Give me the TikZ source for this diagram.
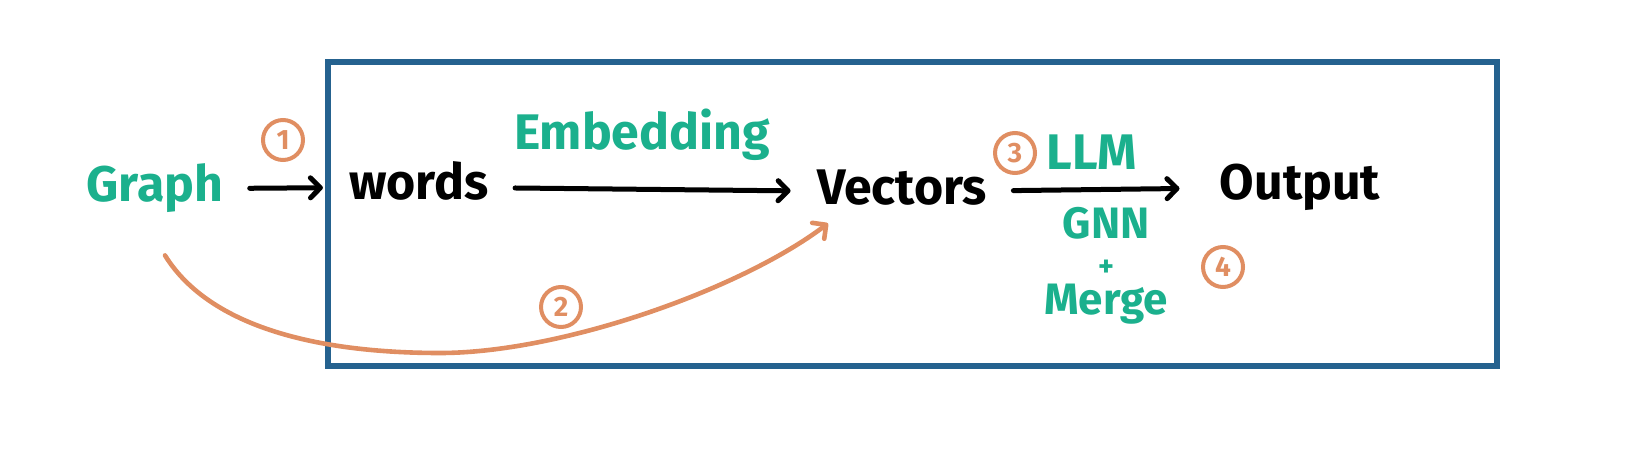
\documentclass[tikz,border=0pt]{standalone}
\usepackage{fontspec}
\setmainfont{Fira Sans}
\usepackage{tikz}
\usetikzlibrary{arrows.meta}

\definecolor{stepgreen}{RGB}{27,176,141}
\definecolor{steporange}{RGB}{224,142,98}
\definecolor{frameblue}{RGB}{37,98,143}

\tikzset{
  word/.style={font=\fontsize{25}{30}\selectfont\bfseries, text height=18pt, text depth=5pt, inner xsep=13pt, inner ysep=2pt},
  flow/.style={-{Straight Barb[length=5pt,width=10pt,round]}, line width=2.5pt, line cap=round},
  num/.style={circle, draw=steporange, text=steporange, line width=2pt, minimum size=20pt, inner sep=0pt, font=\fontsize{14}{14}\selectfont\bfseries}
}

\begin{document}
\begin{tikzpicture}[x=0.5pt, y=0.5pt]
    \useasboundingbox (0,0) rectangle (1625,450);
    % Frame
    \draw[frameblue, line width=2.6pt] (328,84) rectangle (1497,388);
    % Words along the pipeline
    \node[word, text=stepgreen] (graph) at (155,261) {Graph};
    \node[word] (words) at (419,263) {words};
    \node[word] (vectors) at (902,258) {Vectors};
    \node[word] (output) at (1300,263) {Output};
    % Labels
    \node[word, text=stepgreen] (embedding) at (642,313) {Embedding};
    \node[word, text=stepgreen] (llm) at (1092,293) {LLM};
    \node[text=stepgreen, align=center, inner sep=1pt, font=\fontsize{22}{19}\selectfont\bfseries] (gnnmerge) at (1106,184)
        {GNN\\{\fontsize{15}{19}\selectfont +}\\Merge};
    % Step numbers
    \node[num] (num1) at (283,310) {1};
    \node[num] (num2) at (561,143) {2};
    \node[num] (num3) at (1015,297) {3};
    \node[num] (num4) at (1223,183) {4};
    % Arrows
    \draw[flow] (graph) -- (words);
    \draw[flow] (words) -- (vectors);
    \draw[flow, shorten >=7pt] (vectors) -- (output);
    % Direct path from the graph
    \draw[steporange, line width=2.3pt, line cap=round, -{Straight Barb[length=5pt,width=10pt,round]}]
        ([shift={(10,-39)}]graph.south) .. controls (210,122) and (320,97) .. (440,97)
        .. controls (560,97) and (740,160) .. ([shift={(-74,-4)}]vectors.south);
\end{tikzpicture}
\end{document}
